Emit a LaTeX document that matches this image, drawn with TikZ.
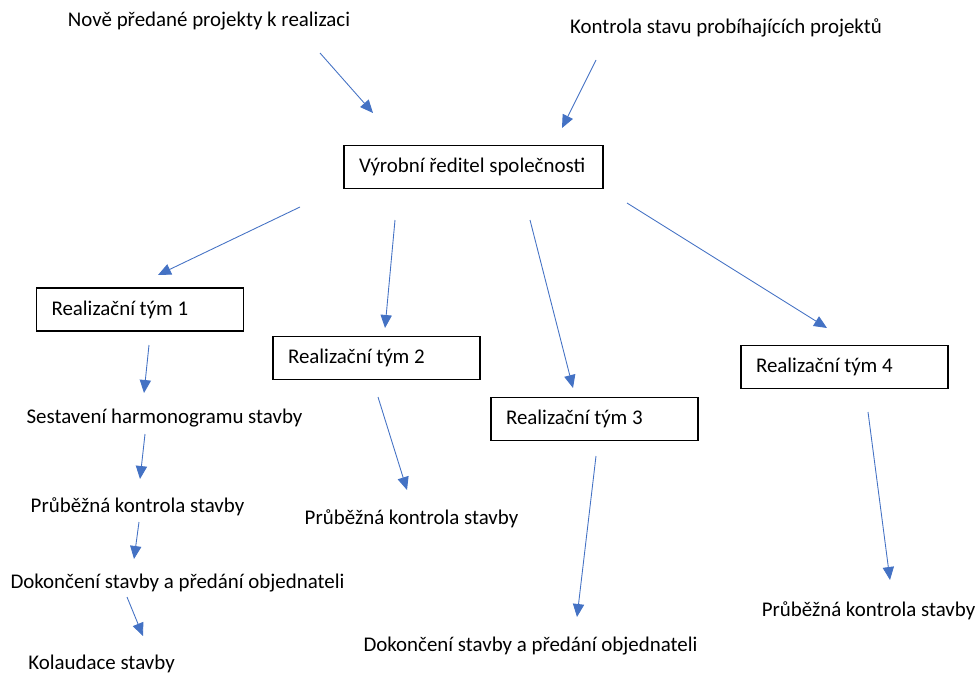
\documentclass[tikz,border=0pt]{standalone}
\usepackage{fontspec}
\setmainfont{Carlito}
\usetikzlibrary{arrows.meta,positioning}
\definecolor{ArrowBlue}{RGB}{68,114,196}

\tikzset{
  stepbox/.style={draw=black,line width=0.8pt,inner xsep=0.3cm,inner ysep=0pt,
    minimum height=0.86cm,text width=3.54cm,align=flush left,font=\fontsize{11.9pt}{14pt}\selectfont},
  headbox/.style={stepbox,inner xsep=0.25cm,text width=4.68cm},
  plaintxt/.style={inner sep=0pt,anchor=base,font=\fontsize{11.9pt}{14pt}\selectfont},
  flow/.style={ArrowBlue,line width=0.5pt,-{Triangle[length=7.4pt,width=6.4pt]}}
}

\begin{document}
\begin{tikzpicture}[x=0.02cm,y=-0.02cm]
  \useasboundingbox (0,0) rectangle (979,673);

  % top inputs
  \node[plaintxt] (nove) at (209,26) {Nově předané projekty k realizaci};
  \node[plaintxt] (kontrola) at (726,33) {Kontrola stavu probíhajících projektů};

  % director and teams
  \node[headbox] (reditel) at (473.5,167) {\hspace*{0.05cm}Výrobní ředitel společnosti};
  \node[stepbox] (tym1) at (140,309.5) {Realizační tým 1};
  \node[stepbox] (tym2) at (376.5,358) {Realizační tým 2};
  \node[stepbox] (tym3) at (594.5,419) {Realizační tým 3};
  \node[stepbox] (tym4) at (844.5,367) {Realizační tým 4};

  % team 1 steps
  \node[plaintxt] (sestav1) at (164.5,423) {Sestavení harmonogramu stavby};
  \node[plaintxt] (kontr1) at (137.5,512) {Průběžná kontrola stavby};
  \node[plaintxt] (dokon1) at (177.5,588) {Dokončení stavby a předání objednateli};
  \node[plaintxt] (kolaud1) at (101.5,669) {Kolaudace stavby};

  % other teams
  \node[plaintxt] (kontr2) at (411.5,524) {Průběžná kontrola stavby};
  \node[plaintxt] (dokon3) at (530.5,651) {Dokončení stavby a předání objednateli};
  \node[plaintxt] (kontr4) at (868.5,616) {Průběžná kontrola stavby};

  % arrows (free standing, between named coordinates)
  \foreach \n/\sx/\sy/\ex/\ey in {
      nr/320/53/373/113, kr/596/60/562/128,
      ra/300/207/158/275, rb/395/220/385/328, rc/530/220/573/388, rd/627/203/827/328,
      a1/149/345/144/393, a2/145/434/140/479, a3/139/522/134/559, a4/127/597/143/636,
      b1/378/397/407/490, c1/596/456/577/617, d1/868/412/890/580} {
    \coordinate (\n s) at (\sx,\sy);
    \coordinate (\n e) at (\ex,\ey);
    \draw[flow] (\n s) -- (\n e);
  }
\end{tikzpicture}
\end{document}
